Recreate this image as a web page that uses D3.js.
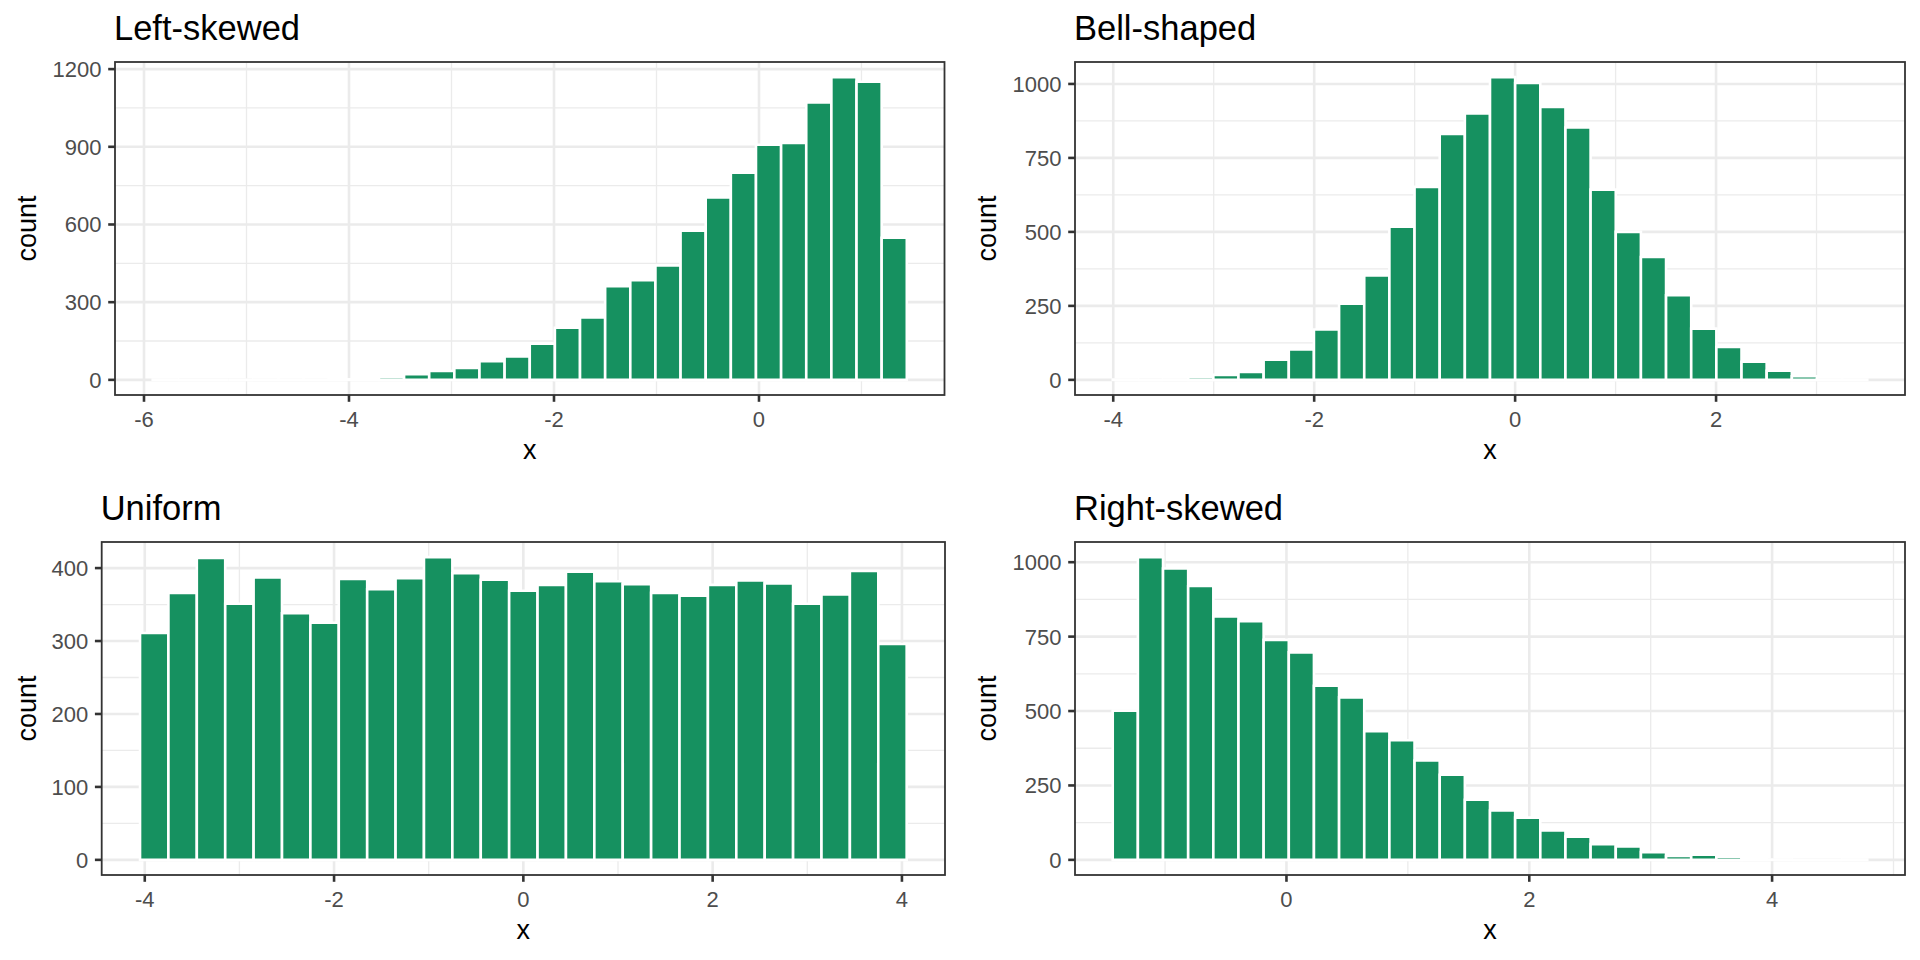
<!DOCTYPE html>
<html>
<head>
<meta charset="utf-8">
<script src="https://cdn.jsdelivr.net/npm/d3@7"></script>
<style>
  html, body { margin: 0; padding: 0; background: #fff; }
  text { font-family: "Liberation Sans", Arial, Helvetica, sans-serif; }
</style>
</head>
<body>
<div id="chart"></div>
<script>
// histogram counts, one value per bin
var leftCounts = [1, 0, 0, 0, 1, 1, 1, 2, 3, 11, 22, 34, 46, 72, 90, 140, 201, 241, 362, 385,
                  442, 576, 704, 800, 908, 915, 1071, 1169, 1151, 549];
var leftRange = [-5.915, 1.442];
var leftXTicks = [-6, -4, -2, 0];
var leftYTicks = [0, 300, 600, 900, 1200];

var bellCounts = [1, 0, 1, 10, 17, 27, 68, 103, 170, 257, 353, 518, 652, 831, 900, 1023, 1003, 922,
                  853, 643, 500, 415, 286, 173, 111, 61, 31, 12, 1, 1];
var bellRange = [-4.005, 3.505];
var bellXTicks = [-4, -2, 0, 2];
var bellYTicks = [0, 250, 500, 750, 1000];

var unifCounts = [311, 366, 414, 351, 387, 338, 325, 385, 371, 386, 415, 393, 384, 369, 377, 395,
                  382, 378, 366, 362, 377, 383, 379, 351, 364, 396, 296];
var unifRange = [-4.05, 4.05];
var unifXTicks = [-4, -2, 0, 2, 4];
var unifYTicks = [0, 100, 200, 300, 400];

var rightCounts = [501, 1017, 979, 920, 818, 802, 739, 697, 585, 546, 432, 402, 334, 286, 202, 166,
                   142, 99, 78, 53, 45, 26, 13, 17, 11, 4, 1, 0, 0, 1];
var rightRange = [-1.431, 4.784];
var rightXTicks = [0, 2, 4];
var rightYTicks = [0, 250, 500, 750, 1000];

var titles = ['Left-skewed', 'Bell-shaped', 'Uniform', 'Right-skewed'];

// panel boxes of the 2x2 grid
var panels = [
  {title: titles[0], counts: leftCounts, range: leftRange, xt: leftXTicks, yt: leftYTicks,
   col: 0, l: 115, r: 944.5, t: 62, b: 395},
  {title: titles[1], counts: bellCounts, range: bellRange, xt: bellXTicks, yt: bellYTicks,
   col: 960, l: 1075, r: 1905, t: 62, b: 395},
  {title: titles[2], counts: unifCounts, range: unifRange, xt: unifXTicks, yt: unifYTicks,
   col: 0, l: 101.7, r: 945, t: 542, b: 875},
  {title: titles[3], counts: rightCounts, range: rightRange, xt: rightXTicks, yt: rightYTicks,
   col: 960, l: 1075, r: 1905, t: 542, b: 875}
];

var fill = '#169160';
var grid = '#EBEBEB';
var dark = '#333333';

var svg = d3.select('#chart').append('svg')
  .attr('width', 1920).attr('height', 960)
  .style('display', 'block')
  .style('background', '#fff');

// minor breaks halfway between majors, one extra each side
function minors(ticks, dom) {
  var step = ticks.length > 1 ? ticks[1] - ticks[0] : 1;
  var out = [];
  for (var v = ticks[0] - step / 2; v <= ticks[ticks.length - 1] + step; v += step) {
    if (v >= dom[0] && v <= dom[1]) out.push(v);
  }
  return out;
}

panels.forEach(function(p, pi) {
  var n = p.counts.length;
  var bw = (p.range[1] - p.range[0]) / n;
  var bins = p.counts.map(function(c, i) {
    return {x0: p.range[0] + i * bw, x1: p.range[0] + (i + 1) * bw, c: c};
  });
  var span = p.range[1] - p.range[0];
  var x = d3.scaleLinear()
    .domain([p.range[0] - 0.05 * span, p.range[1] + 0.05 * span])
    .range([p.l, p.r]);
  var ymax = d3.max(p.counts);
  var y = d3.scaleLinear()
    .domain([-0.05 * ymax, 1.05 * ymax])
    .range([p.b, p.t]);

  var g = svg.append('g');
  var clipId = 'clip' + pi;
  g.append('clipPath').attr('id', clipId)
    .append('rect').attr('x', p.l).attr('y', p.t)
    .attr('width', p.r - p.l).attr('height', p.b - p.t);

  var inner = g.append('g').attr('clip-path', 'url(#' + clipId + ')');
  inner.append('rect')
    .attr('x', p.l).attr('y', p.t).attr('width', p.r - p.l).attr('height', p.b - p.t)
    .style('fill', '#fff');

  // minor grid
  inner.selectAll('.mx').data(minors(p.xt, x.domain())).enter().append('line')
    .attr('x1', function(d) { return x(d); }).attr('x2', function(d) { return x(d); })
    .attr('y1', p.t).attr('y2', p.b)
    .style('stroke', grid).style('stroke-width', 1.3);
  inner.selectAll('.my').data(minors(p.yt, y.domain())).enter().append('line')
    .attr('y1', function(d) { return y(d); }).attr('y2', function(d) { return y(d); })
    .attr('x1', p.l).attr('x2', p.r)
    .style('stroke', grid).style('stroke-width', 1.3);
  // major grid
  inner.selectAll('.gx').data(p.xt).enter().append('line')
    .attr('x1', function(d) { return x(d); }).attr('x2', function(d) { return x(d); })
    .attr('y1', p.t).attr('y2', p.b)
    .style('stroke', grid).style('stroke-width', 2.6);
  inner.selectAll('.gy').data(p.yt).enter().append('line')
    .attr('y1', function(d) { return y(d); }).attr('y2', function(d) { return y(d); })
    .attr('x1', p.l).attr('x2', p.r)
    .style('stroke', grid).style('stroke-width', 2.6);

  // bars as paths so empty bins still draw their white outline
  inner.selectAll('.bar').data(bins).enter().append('path')
    .attr('d', function(d) {
      return 'M' + x(d.x0) + ',' + y(0) + 'H' + x(d.x1) + 'V' + y(d.c) + 'H' + x(d.x0) + 'Z';
    })
    .style('fill', fill)
    .style('stroke', '#fff')
    .style('stroke-width', 2.6);

  g.append('rect')
    .attr('x', p.l).attr('y', p.t).attr('width', p.r - p.l).attr('height', p.b - p.t)
    .style('fill', 'none').style('stroke', dark).style('stroke-width', 1.8);

  // axes: ticks and labels
  g.selectAll('.tx').data(p.xt).enter().append('line')
    .attr('x1', function(d) { return x(d); }).attr('x2', function(d) { return x(d); })
    .attr('y1', p.b).attr('y2', p.b + 6.8)
    .style('stroke', dark).style('stroke-width', 2.6);
  g.selectAll('.lx').data(p.xt).enter().append('text')
    .attr('x', function(d) { return x(d); })
    .attr('y', p.b + 31.5)
    .attr('text-anchor', 'middle')
    .attr('font-size', '22px')
    .style('fill', '#4D4D4D')
    .text(function(d) { return d; });
  g.selectAll('.ty').data(p.yt).enter().append('line')
    .attr('y1', function(d) { return y(d); }).attr('y2', function(d) { return y(d); })
    .attr('x1', p.l - 6.8).attr('x2', p.l)
    .style('stroke', dark).style('stroke-width', 2.6);
  g.selectAll('.ly').data(p.yt).enter().append('text')
    .attr('x', p.l - 13.5)
    .attr('y', function(d) { return y(d); })
    .attr('dy', '0.36em')
    .attr('text-anchor', 'end')
    .attr('font-size', '22px')
    .style('fill', '#4D4D4D')
    .text(function(d) { return d; });

  g.append('text')
    .attr('x', (p.l + p.r) / 2)
    .attr('y', p.b + 64)
    .attr('text-anchor', 'middle')
    .attr('font-size', '27px')
    .style('fill', '#000')
    .text('x');
  g.append('text')
    .attr('transform', 'translate(' + (p.col + 36) + ',' + ((p.t + p.b) / 2) + ') rotate(-90)')
    .attr('text-anchor', 'middle')
    .attr('font-size', '27px')
    .style('fill', '#000')
    .text('count');

  g.append('text')
    .attr('x', p.l - 1)
    .attr('y', p.t - 22)
    .attr('font-size', '34.5px')
    .style('fill', '#000')
    .text(p.title);
});
</script>
</body>
</html>
